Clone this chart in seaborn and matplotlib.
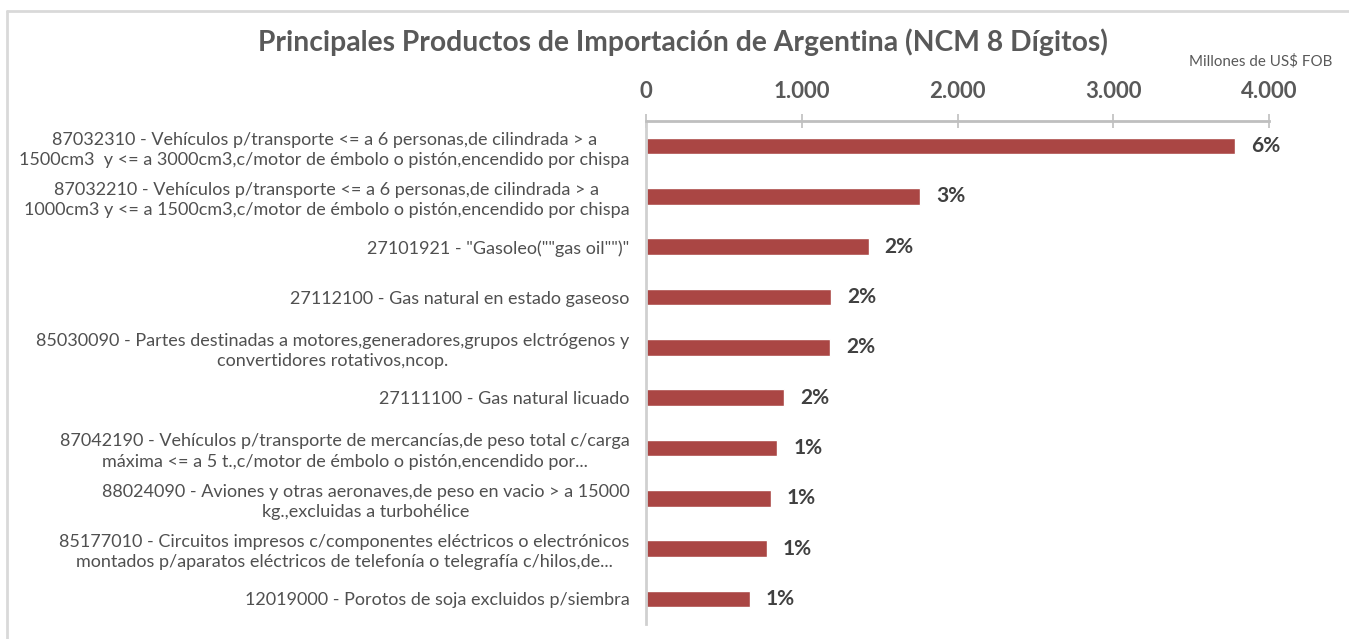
import matplotlib
matplotlib.use("Agg")
import matplotlib.pyplot as plt
import pandas as pd
import seaborn as sns
from matplotlib.lines import Line2D

productos = [
    "87032310 - Vehículos p/transporte <= a 6 personas,de cilindrada > a\n"
    "1500cm3  y <= a 3000cm3,c/motor de émbolo o pistón,encendido por chispa",
    "87032210 - Vehículos p/transporte <= a 6 personas,de cilindrada > a\n"
    "1000cm3 y <= a 1500cm3,c/motor de émbolo o pistón,encendido por chispa",
    '27101921 - "Gasoleo(""gas oil"")"',
    "27112100 - Gas natural en estado gaseoso",
    "85030090 - Partes destinadas a motores,generadores,grupos elctrógenos y\n"
    "convertidores rotativos,ncop.",
    "27111100 - Gas natural licuado",
    "87042190 - Vehículos p/transporte de mercancías,de peso total c/carga\n"
    "máxima <= a 5 t.,c/motor de émbolo o pistón,encendido por...",
    "88024090 - Aviones y otras aeronaves,de peso en vacio > a 15000\n"
    "kg.,excluidas a turbohélice",
    "85177010 - Circuitos impresos c/componentes eléctricos o electrónicos\n"
    "montados p/aparatos eléctricos de telefonía o telegrafía c/hilos,de...",
    "12019000 - Porotos de soja excluidos p/siembra",
]
valores = [3780, 1762, 1429, 1187, 1180, 889, 844, 801, 775, 665]
participacion = ["6%", "3%", "2%", "2%", "2%", "2%", "1%", "1%", "1%", "1%"]
ticks_x = [0, 1000, 2000, 3000, 4000]
ticks_x_txt = ["0", "1.000", "2.000", "3.000", "4.000"]

gris = "#595959"
rojo = "#AA4644"

sns.set_style("white")
plt.rcParams["font.family"] = ["Lato", "DejaVu Sans"]

df = pd.DataFrame({"producto": productos, "valor": valores})

fig = plt.figure(figsize=(13.49, 6.39), dpi=100)

# marco del grafico (solo borde superior e izquierdo visibles)
fig.add_artist(Line2D([7 / 1349, 7 / 1349], [0, 1 - 11 / 639], transform=fig.transFigure,
                      color="#D9D9D9", lw=2, zorder=0))
fig.add_artist(Line2D([7 / 1349, 1], [1 - 11 / 639, 1 - 11 / 639], transform=fig.transFigure,
                      color="#D9D9D9", lw=2, zorder=0))

ax = fig.add_axes([646 / 1349, 1 - 624 / 639, (1269 - 646) / 1349, (624 - 121) / 639])

sns.barplot(data=df, x="valor", y="producto", orient="h", color=rojo,
            width=0.33, saturation=1, ax=ax)

ax.set_xlim(0, 4000)
ax.set_ylim(len(productos) - 0.5, -0.5)
ax.xaxis.tick_top()
ax.set_xticks(ticks_x)
ax.set_xticklabels(ticks_x_txt, fontsize=16, fontweight="bold", color=gris)
ax.tick_params(axis="x", direction="inout", length=10, width=1.2, color="#BFBFBF", pad=9)
ax.set_yticks([i - 0.5 for i in range(len(productos) + 1)], minor=True)
ax.set_yticks(range(len(productos)))
ax.set_yticklabels(productos, fontsize=12.95, color="#505050", multialignment="center",
                   linespacing=1.32)
ax.tick_params(axis="y", which="major", length=0, pad=12)
ax.tick_params(axis="y", which="minor", direction="inout", length=10, width=1.2,
               color="#D0D0D0")
ax.set_xlabel("")
ax.set_ylabel("")

for s in ["right", "bottom"]:
    ax.spines[s].set_visible(False)
ax.spines["top"].set_color("#BFBFBF")
ax.spines["top"].set_linewidth(2)
ax.spines["left"].set_color("#D0D0D0")
ax.spines["left"].set_linewidth(2)

for i, (v, p) in enumerate(zip(valores, participacion)):
    ax.annotate(p, (v, i), xytext=(16, 0), textcoords="offset pixels",
                ha="left", va="center", fontsize=15, fontweight="bold", color="#404040")

fig.text(683 / 1349, 1 - 42 / 639, "Principales Productos de Importación de Argentina (NCM 8 Dígitos)",
         ha="center", va="center", fontsize=20.3, fontweight="bold", color=gris)
fig.text(1332 / 1349, 1 - 61 / 639, "Millones de US$ FOB", ha="right", va="center",
         fontsize=10.9, color=gris)

fig.savefig("out.png", dpi=100, facecolor="white")
